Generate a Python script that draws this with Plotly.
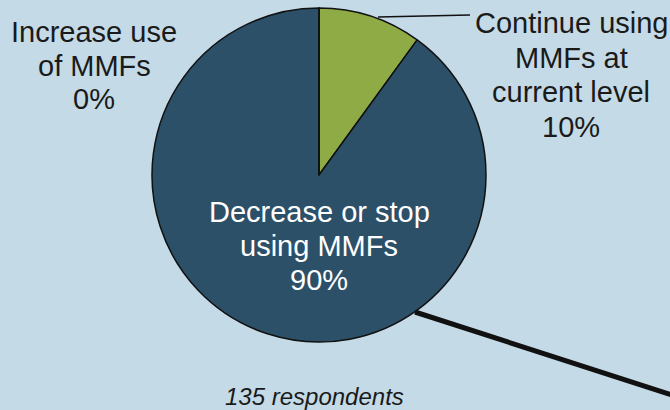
import plotly.graph_objects as go

# ---- data ----
categories = ["Continue using MMFs at current level", "Decrease or stop using MMFs", "Increase use of MMFs"]
label_lines = [["Continue using", "MMFs at", "current level"],
               ["Decrease or stop", "using MMFs"],
               ["Increase use", "of MMFs"]]
values = [10, 90, 0]
colors = ["#8FAB45", "#2C5068", "#2C5068"]
note = "135 respondents"

W, H = 670, 410
BG = "#C4DAE6"


def px(x):
    return x / W


def py(y):
    return 1 - y / H


cx, cy, r = 319, 175, 167

fig = go.Figure(go.Pie(
    labels=categories,
    values=values,
    sort=False,
    direction="clockwise",
    rotation=0,
    marker=dict(colors=colors, line=dict(color="#111111", width=1.5)),
    textinfo="none",
    hoverinfo="label+percent",
    showlegend=False,
    domain=dict(x=[px(cx - r), px(cx + r)], y=[py(cy + r), py(cy - r)]),
))

FONT = "Liberation Sans, Arial, sans-serif"
annotations = []


def add_lines(lines, x, y0, step, size, color, italic=False):
    for i, t in enumerate(lines):
        txt = f"<i>{t}</i>" if italic else t
        annotations.append(dict(
            x=px(x), y=py(y0 + i * step), xref="paper", yref="paper",
            text=txt, showarrow=False, xanchor="center", yanchor="middle",
            font=dict(family=FONT, size=size, color=color)))


# label positions (layout)
pos = {0: (571, 23, 34.5, "#1a1a1a"), 1: (319, 212, 34, "white"), 2: (94, 32, 33.5, "#1a1a1a")}
for i, lines in enumerate(label_lines):
    x, y0, step, col = pos[i]
    add_lines(lines + [f"{values[i]}%"], x, y0, step, 29, col)

add_lines([note], 314, 396, 0, 24, "#1a1a1a", italic=True)

shapes = [
    dict(type="line", xref="paper", yref="paper", x0=px(378), y0=py(17), x1=px(470), y1=py(15),
         line=dict(color="#111111", width=1.5)),
    dict(type="line", xref="paper", yref="paper", x0=px(415), y0=py(312), x1=px(672), y1=py(395),
         line=dict(color="#111111", width=5)),
]

fig.update_layout(
    width=W, height=H,
    margin=dict(l=0, r=0, t=0, b=0),
    paper_bgcolor=BG, plot_bgcolor=BG,
    annotations=annotations,
    shapes=shapes,
)

fig.write_html("out.html", config={"displayModeBar": False},
               post_script="document.body.style.margin='0';document.body.style.overflow='hidden';")
